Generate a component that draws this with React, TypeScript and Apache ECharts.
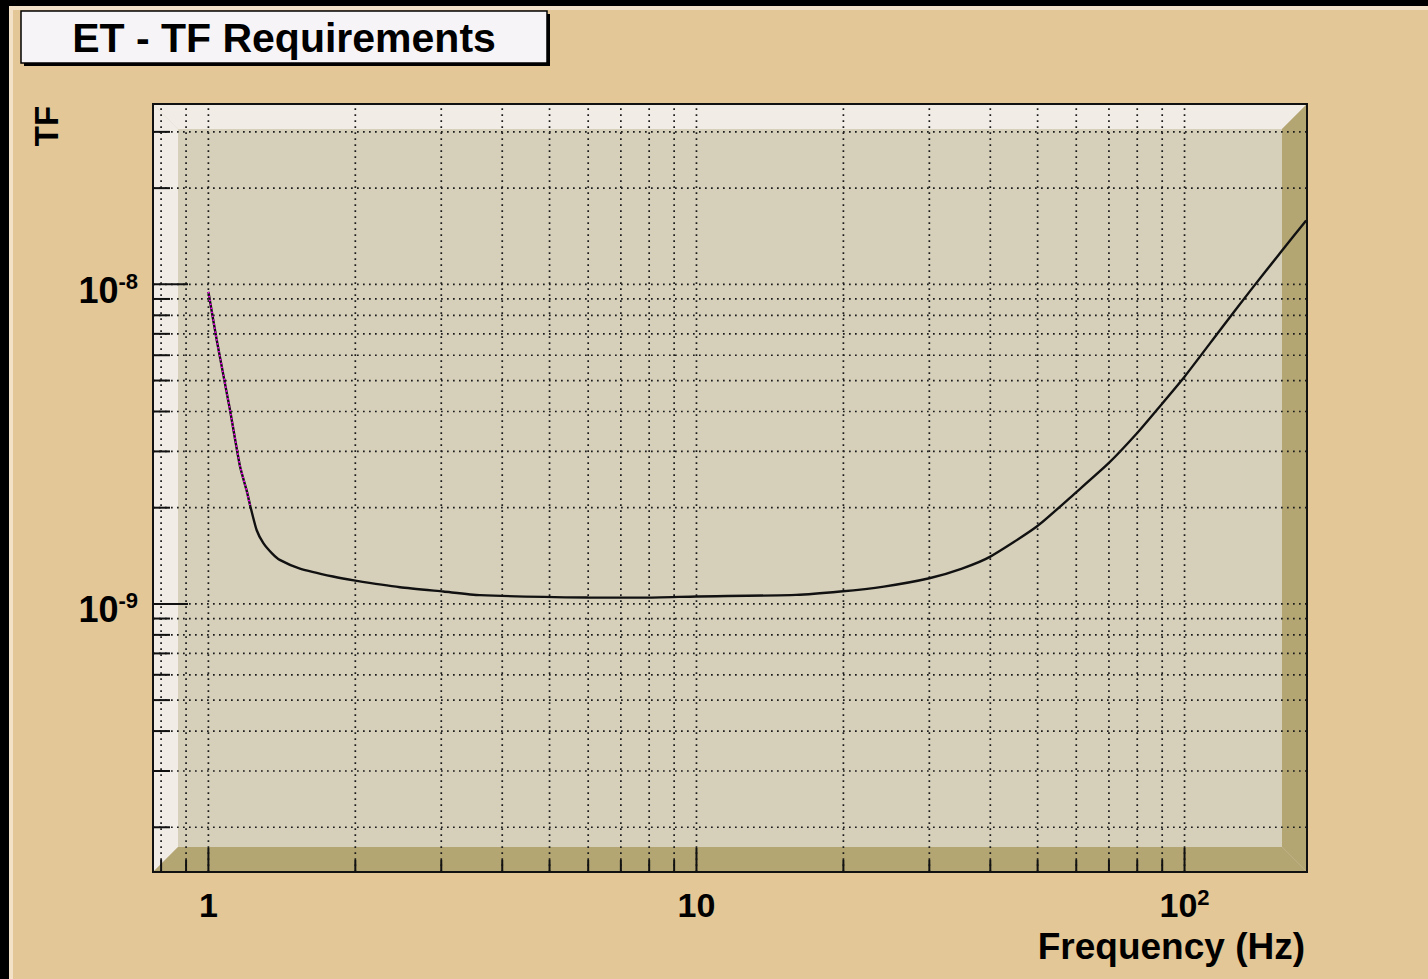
import React, { useEffect, useRef } from "react";
import * as echarts from "echarts";

// ---- data ----
const FREQ = [
  1.0, 1.04, 1.107, 1.161, 1.199, 1.217, 1.256, 1.296, 1.35, 1.40, 1.54, 1.80, 2.0, 2.47, 3.03, 3.6,
  6.0, 7.8, 10, 16, 19.7, 24.2, 30, 35, 40, 49.8, 60.2, 69.9, 79.9, 87.8, 100, 118.4, 136.3, 157.1, 177.5,
];
const TF = [
  9.47e-9, 6.7e-9, 4.05e-9, 2.69e-9, 2.25e-9, 2.04e-9, 1.7e-9, 1.55e-9, 1.44e-9, 1.373e-9, 1.29e-9, 1.218e-9,
  1.183e-9, 1.128e-9, 1.093e-9, 1.065e-9, 1.047e-9, 1.046e-9, 1.055e-9, 1.067e-9, 1.093e-9, 1.133e-9, 1.203e-9,
  1.29e-9, 1.406e-9, 1.746e-9, 2.247e-9, 2.756e-9, 3.42e-9, 4.05e-9, 5.14e-9, 7.21e-9, 9.54e-9, 1.255e-8, 1.585e-8,
];
const HIGHLIGHT_COUNT = 6; // first segment drawn with magenta overlay

const X_MIN = 0.77;
const X_MAX = 178.2;
const Y_MIN = 1.449e-10;
const Y_MAX = 3.667e-8;

const X_GRID = [0.8, 0.9, 1, 2, 3, 4, 5, 6, 7, 8, 9, 10, 20, 30, 40, 50, 60, 70, 80, 90, 100];
const X_MAJOR = [1, 10, 100];
const Y_GRID = [
  2e-10, 3e-10, 4e-10, 5e-10, 6e-10, 7e-10, 8e-10, 9e-10,
  1e-9, 2e-9, 3e-9, 4e-9, 5e-9, 6e-9, 7e-9, 8e-9, 9e-9,
  1e-8, 2e-8, 3e-8,
];
const Y_MAJOR = [1e-9, 1e-8];

const TITLE = "ET - TF Requirements";
const X_TITLE = "Frequency (Hz)";
const Y_TITLE = "TF";

const FONT = '"Liberation Sans", Arial, Helvetica, sans-serif';

function isMajor(v: number, majors: number[]) {
  return majors.some((m) => Math.abs(Math.log10(v) - Math.log10(m)) < 1e-6);
}

function powLabel(v: number, isX: boolean) {
  const lg = Math.log10(v);
  const e = Math.round(lg);
  if (Math.abs(lg - e) > 1e-6) return "";
  if (isX) {
    if (e === 0) return "{b|1}";
    if (e === 1) return "{b|10}";
  }
  return `{b|10}{sup|${e}}`;
}

const richX = {
  b: { fontSize: 34, fontWeight: "bold", fontFamily: FONT, color: "#000", lineHeight: 38 },
  sup: { fontSize: 22, fontWeight: "bold", fontFamily: FONT, color: "#000", lineHeight: 22, verticalAlign: "top" },
};
const richY = {
  b: { fontSize: 36, fontWeight: "bold", fontFamily: FONT, color: "#000", lineHeight: 40 },
  sup: { fontSize: 22, fontWeight: "bold", fontFamily: FONT, color: "#000", lineHeight: 22, verticalAlign: "top" },
};

export default function App() {
  const ref = useRef<HTMLDivElement>(null);
  useEffect(() => {
    if (!ref.current) return;
    const chart = echarts.init(ref.current, null, { renderer: "svg" });

    const x0 = 153, y0 = 104, x1 = 1307, y1 = 872, b = 25;

    const option: any = {
      animation: false,
      backgroundColor: "#e4c796",
      grid: { left: x0, top: y0, width: x1 - x0, height: y1 - y0 },
      xAxis: {
        type: "log",
        logBase: 10,
        min: X_MIN,
        max: X_MAX,
        axisLine: { show: false },
        axisTick: { show: false },
        splitLine: { show: false },
        axisLabel: {
          margin: 14,
          formatter: (v: number) => powLabel(v, true),
          rich: richX,
        },
      },
      yAxis: {
        type: "log",
        logBase: 10,
        min: Y_MIN,
        max: Y_MAX,
        axisLine: { show: false },
        axisTick: { show: false },
        splitLine: { show: false },
        axisLabel: {
          margin: 15,
          padding: [12, 0, 0, 0],
          formatter: (v: number) => powLabel(v, false),
          rich: richY,
        },
      },
      graphic: [
        // canvas border
        { type: "rect", z: 0, shape: { x: 0, y: 0, width: 1428, height: 6 }, style: { fill: "#000" } },
        { type: "rect", z: 0, shape: { x: 0, y: 0, width: 9, height: 979 }, style: { fill: "#000" } },
        { type: "rect", z: 0, shape: { x: 9, y: 6, width: 1419, height: 4 }, style: { fill: "#f3e2c8" } },
        { type: "rect", z: 0, shape: { x: 9, y: 6, width: 4, height: 973 }, style: { fill: "#f3e2c8" } },
        // frame fill and bevels
        { type: "rect", z: 0, shape: { x: x0, y: y0, width: x1 - x0, height: y1 - y0 }, style: { fill: "#d6d0bb" } },
        {
          type: "polygon", z: 0,
          shape: { points: [[x0, y0], [x1, y0], [x1 - b, y0 + b], [x0 + b, y0 + b]] },
          style: { fill: "#f1ece6" },
        },
        {
          type: "polygon", z: 0,
          shape: { points: [[x0, y0], [x0 + b, y0 + b], [x0 + b, y1 - b], [x0, y1]] },
          style: { fill: "#f1ece6" },
        },
        {
          type: "polygon", z: 0,
          shape: { points: [[x1, y0], [x1, y1], [x1 - b, y1 - b], [x1 - b, y0 + b]] },
          style: { fill: "#b3a673" },
        },
        {
          type: "polygon", z: 0,
          shape: { points: [[x0, y1], [x1, y1], [x1 - b, y1 - b], [x0 + b, y1 - b]] },
          style: { fill: "#b3a673" },
        },
        // frame border
        {
          type: "rect", z: 50,
          shape: { x: x0, y: y0, width: x1 - x0, height: y1 - y0 },
          style: { fill: "none", stroke: "#111", lineWidth: 2 },
        },
        // title box
        { type: "rect", z: 0, shape: { x: 24, y: 14, width: 526, height: 52 }, style: { fill: "#000" } },
        {
          type: "rect", z: 1,
          shape: { x: 21, y: 11, width: 526, height: 52 },
          style: { fill: "#f6f4f7", stroke: "#000", lineWidth: 1.5 },
        },
        {
          type: "text", z: 2, x: 284, y: 38,
          style: {
            text: TITLE, fill: "#000", font: `bold 41px ${FONT}`,
            textAlign: "center", textVerticalAlign: "middle",
          },
        },
        // axis titles
        {
          type: "text", z: 2, x: 1305, y: 946,
          style: {
            text: X_TITLE, fill: "#000", font: `bold 37px ${FONT}`,
            textAlign: "right", textVerticalAlign: "middle",
          },
        },
        {
          type: "text", z: 2, x: 46, y: 126, rotation: Math.PI / 2,
          style: {
            text: Y_TITLE, fill: "#000", font: `bold 33px ${FONT}`,
            textAlign: "center", textVerticalAlign: "middle",
          },
        },
      ],
      series: [
        // vertical grid lines
        {
          type: "custom", z: 3, silent: true,
          data: X_GRID.map((v) => [v, Y_MIN]),
          encode: { x: 0, y: 1 },
          renderItem: (_p: any, api: any) => {
            const v = api.value(0);
            const a = api.coord([v, Y_MIN]);
            const c = api.coord([v, Y_MAX]);
            return {
              type: "line",
              shape: { x1: a[0], y1: a[1], x2: c[0], y2: c[1] },
              style: { stroke: "#1a1a1a", lineWidth: 1.7, lineDash: [1.7, 4.3] },
            };
          },
        },
        // horizontal grid lines
        {
          type: "custom", z: 3, silent: true,
          data: Y_GRID.map((v) => [X_MIN, v]),
          encode: { x: 0, y: 1 },
          renderItem: (_p: any, api: any) => {
            const v = api.value(1);
            const a = api.coord([X_MIN, v]);
            const c = api.coord([X_MAX, v]);
            return {
              type: "line",
              shape: { x1: a[0], y1: a[1], x2: c[0], y2: c[1] },
              style: { stroke: "#1a1a1a", lineWidth: 1.7, lineDash: [1.7, 4.3] },
            };
          },
        },
        // x ticks
        {
          type: "custom", z: 4, silent: true,
          data: X_GRID.map((v) => [v, Y_MIN]),
          encode: { x: 0, y: 1 },
          renderItem: (_p: any, api: any) => {
            const v = api.value(0);
            const a = api.coord([v, Y_MIN]);
            const major = isMajor(v, X_MAJOR);
            const len = major ? 24 : 12;
            return {
              type: "line",
              shape: { x1: a[0], y1: a[1], x2: a[0], y2: a[1] - len },
              style: { stroke: "#111", lineWidth: 2 },
            };
          },
        },
        // y ticks
        {
          type: "custom", z: 4, silent: true,
          data: Y_GRID.map((v) => [X_MIN, v]),
          encode: { x: 0, y: 1 },
          renderItem: (_p: any, api: any) => {
            const v = api.value(1);
            const a = api.coord([X_MIN, v]);
            const major = isMajor(v, Y_MAJOR);
            const len = major ? 35 : 17;
            return {
              type: "line",
              shape: { x1: a[0], y1: a[1], x2: a[0] + len, y2: a[1] },
              style: { stroke: "#111", lineWidth: 2 },
            };
          },
        },
        // curve
        {
          type: "line", z: 6, silent: true,
          data: FREQ.map((f, i) => [f, TF[i]]),
          symbol: "none",
          smooth: 0.2,
          lineStyle: { color: "#111", width: 2.4 },
        },
        {
          type: "line", z: 7, silent: true,
          data: FREQ.slice(0, HIGHLIGHT_COUNT).map((f, i) => [f, TF[i]]),
          symbol: "none",
          smooth: false,
          lineStyle: { color: "#ff00ff", width: 1.8, type: [1.5, 2.5] },
        },
      ],
    };
    chart.setOption(option);
    return () => chart.dispose();
  }, []);
  return (
    <div
      ref={ref}
      style={{ position: "fixed", left: 0, top: 0, width: 1428, height: 979 }}
    />
  );
}
